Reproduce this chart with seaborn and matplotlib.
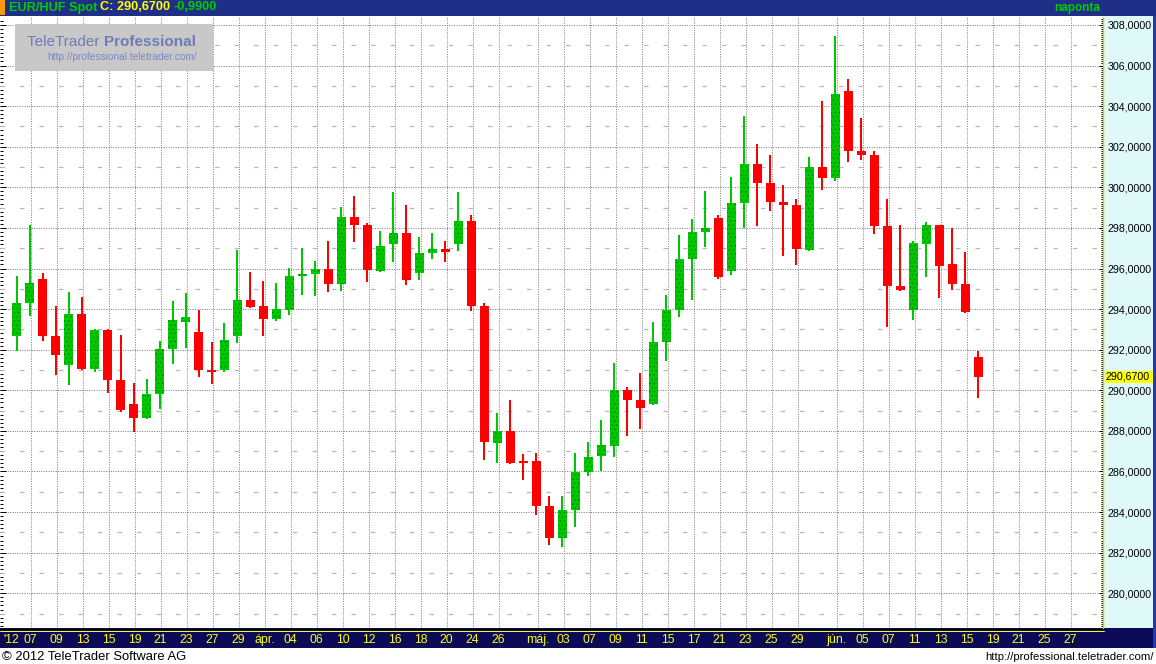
import numpy as np
import pandas as pd
import matplotlib
matplotlib.use("Agg")
import matplotlib.pyplot as plt
from matplotlib.patches import Rectangle
from matplotlib.lines import Line2D
from matplotlib.ticker import MultipleLocator, FuncFormatter, NullFormatter
import seaborn as sns

# ---------------- data ----------------
# trading calendar shown on the axis (weekdays Mar 6 - Jun 29, 2012)
dates = pd.bdate_range("2012-03-06", "2012-06-29")

open_ = [292.69, 294.32, 295.48, 292.67, 291.26, 293.76, 291.06, 292.97, 290.51, 289.33,
         288.64, 289.82, 292.03, 293.36, 292.87, 291.01, 291.00, 292.67, 294.45, 294.15,
         293.51, 293.96, 295.63, 295.73, 295.98, 295.24, 298.54, 298.15, 295.88, 297.21,
         297.75, 295.78, 296.77, 296.96, 297.21, 298.34, 294.15, 287.40, 288.00, 286.52,
         286.52, 284.30, 282.72, 284.10, 285.98, 286.77, 287.26, 290.01, 289.52, 289.33,
         292.38, 293.96, 296.47, 297.80, 298.49, 295.88, 299.23, 301.15, 300.21, 299.27,
         299.13, 296.91, 301.00, 300.45, 304.74, 301.78, 301.59, 298.09, 295.14, 293.96,
         297.21, 298.14, 296.22, 295.24, 291.66]
high = [295.63, 298.14, 295.78, 294.15, 294.84, 294.60, 293.02, 293.02, 292.72, 290.36,
        290.56, 292.43, 294.40, 294.79, 293.96, 292.38, 293.32, 296.91, 295.83, 295.38,
        295.29, 296.02, 297.01, 296.37, 297.35, 299.03, 299.57, 298.24, 297.85, 299.77,
        299.13, 297.55, 297.75, 297.35, 299.77, 298.64, 294.30, 288.88, 289.52, 286.86,
        286.91, 284.79, 284.79, 286.91, 287.45, 288.54, 291.34, 290.16, 290.85, 293.36,
        294.69, 297.65, 298.44, 299.82, 298.64, 300.51, 303.51, 302.13, 301.59, 300.11,
        299.42, 301.49, 304.25, 307.45, 305.33, 303.41, 301.78, 299.42, 298.14, 297.35,
        298.29, 298.14, 297.99, 296.81, 291.94]
low = [291.94, 293.67, 292.43, 290.75, 290.26, 291.00, 290.90, 289.87, 288.93, 287.95,
       288.59, 289.08, 291.30, 292.08, 290.66, 290.31, 290.90, 292.33, 294.05, 292.67,
       293.41, 293.71, 294.69, 294.65, 294.84, 294.89, 297.31, 295.33, 295.83, 296.32,
       295.19, 295.43, 296.47, 296.32, 296.86, 293.91, 286.57, 286.42, 286.37, 285.58,
       283.86, 282.38, 282.28, 283.27, 285.78, 286.02, 286.71, 287.75, 288.09, 289.28,
       291.44, 293.63, 294.45, 297.06, 295.48, 295.68, 297.99, 298.09, 298.83, 296.62,
       296.17, 296.88, 299.87, 300.31, 301.25, 301.34, 297.70, 293.12, 294.89, 293.46,
       295.58, 294.55, 294.94, 293.81, 289.62]
close = [294.30, 295.29, 292.69, 291.74, 293.76, 291.05, 292.97, 290.51, 289.03, 288.64,
         289.82, 292.02, 293.46, 293.61, 291.00, 290.90, 292.48, 294.45, 294.10, 293.51,
         294.00, 295.63, 295.72, 295.98, 295.24, 298.54, 298.15, 295.93, 297.11, 297.75,
         295.43, 296.76, 296.96, 296.81, 298.34, 294.15, 287.45, 288.00, 286.42, 286.42,
         284.30, 282.71, 284.11, 285.97, 286.71, 287.31, 290.01, 289.52, 289.13, 292.38,
         293.96, 296.47, 297.80, 297.99, 295.58, 299.23, 301.15, 300.21, 299.27, 299.13,
         296.96, 301.00, 300.45, 304.60, 301.78, 301.59, 298.09, 295.14, 294.94, 297.26,
         298.14, 296.12, 295.24, 293.86, 290.67]

tick_dates = ["2012-03-07", "2012-03-09", "2012-03-13", "2012-03-15", "2012-03-19",
              "2012-03-21", "2012-03-23", "2012-03-27", "2012-03-29", "2012-04-02",
              "2012-04-04", "2012-04-06", "2012-04-10", "2012-04-12", "2012-04-16",
              "2012-04-18", "2012-04-20", "2012-04-24", "2012-04-26", "2012-05-01",
              "2012-05-03", "2012-05-07", "2012-05-09", "2012-05-11", "2012-05-15",
              "2012-05-17", "2012-05-21", "2012-05-23", "2012-05-25", "2012-05-29",
              "2012-06-01", "2012-06-05", "2012-06-07", "2012-06-11", "2012-06-13",
              "2012-06-15", "2012-06-19", "2012-06-21", "2012-06-25", "2012-06-27"]
tick_texts = ["07", "09", "13", "15", "19", "21", "23", "27", "29", "ápr.",
              "04", "06", "10", "12", "16", "18", "20", "24", "26", "máj.",
              "03", "07", "09", "11", "15", "17", "21", "23", "25", "29",
              "jún.", "05", "07", "11", "13", "15", "19", "21", "25", "27"]

symbol = "EUR/HUF Spot"
last_price = 290.67
change = -0.99

# ---------------- figure ----------------
sns.set_theme(style="white")
plt.rcParams["font.family"] = ["Liberation Sans", "DejaVu Sans"]
plt.rcParams["hatch.linewidth"] = 0.6

W, H = 1156, 664
fig = plt.figure(figsize=(W / 100, H / 100), dpi=100)
fig.patch.set_facecolor("white")


def fx(x):
    return x / W


def fy(y):
    return 1 - y / H


def frect(x0, y0, x1, y1, color, z=-1):
    fig.add_artist(Rectangle((fx(x0), fy(y1)), fx(x1) - fx(x0), fy(y0) - fy(y1),
                             transform=fig.transFigure, facecolor=color,
                             edgecolor="none", zorder=z))


def fline(x0, x1, y, color, z=-0.5, lw=0.72):
    fig.add_artist(Line2D([fx(x0), fx(x1)], [fy(y), fy(y)], transform=fig.transFigure,
                          color=color, lw=lw, zorder=z))


# background panels
frect(0, 0, W, 16, "#1F2E86", z=2)           # header
frect(0, 0, 5, 15, "#FF9900", z=2.1)         # orange marker
frect(1104, 16, 1153, 628, "#DFF9F9")        # right value panel
frect(1153, 16, W, 648, "#2438B0", z=2)      # right border
frect(0, 628, 1153, 648, "#0B0B58")          # date band
fline(0, 1104, 628.5, "black")
fline(0, 1104, 630.8, "#FFFF00")

ax = fig.add_axes([0, 1 - 628 / H, 1103 / W, (628 - 17) / H])
ax.set_facecolor("white")

df = pd.DataFrame({"date": dates[:len(close)], "open": open_, "high": high,
                   "low": low, "close": close})
df["x"] = dates.get_indexer(df["date"])
df["up"] = df["close"] >= df["open"]

green, red = "#00C800", "#FF0000"
for up, sub in df.groupby("up"):
    col = green if up else red
    ax.bar(sub["x"], sub["high"] - sub["low"], bottom=sub["low"], width=2 / 13,
           color=col, linewidth=0, zorder=2)
    body_lo = np.minimum(sub["open"], sub["close"])
    body_h = np.maximum(np.abs(sub["close"] - sub["open"]), 0.11)
    if up:
        ax.bar(sub["x"], body_h, bottom=body_lo, width=9 / 13, color=col,
               edgecolor="#008A00", hatch="....", linewidth=0, zorder=3)
    else:
        ax.bar(sub["x"], body_h, bottom=body_lo, width=9 / 13, color=col,
               linewidth=0, zorder=3)

ax.set_xlim(-1.27, 83.58)
ax.set_ylim(278.29, 308.39)

tick_pos = dates.get_indexer(pd.to_datetime(tick_dates))
ax.set_xticks(tick_pos + 0.08)
ax.set_xticklabels(tick_texts, color="#FFFF00", fontsize=8.8)
ax.tick_params(axis="x", length=0, pad=4)

ax.yaxis.set_major_locator(MultipleLocator(2))
ax.yaxis.set_minor_locator(MultipleLocator(0.2))
ax.yaxis.set_minor_formatter(NullFormatter())
ax.tick_params(axis="y", which="both", direction="in", left=True, right=False,
               labelleft=False, color="black", width=0.72)
ax.tick_params(axis="y", which="major", length=4.3)
ax.tick_params(axis="y", which="minor", length=2.2)

ax.set_axisbelow(True)
ax.grid(True, which="major", axis="both", color="#7f7f7f", linestyle=(0, (1, 1.4)),
        linewidth=0.72)
for v in range(279, 309, 2):
    ax.axhline(v, color="#b8b8b8", lw=0.9, linestyle=(0, (3.6, 12)), zorder=0.6)
for s in ax.spines.values():
    s.set_visible(False)

# right value axis
axr = ax.twinx()
axr.set_ylim(ax.get_ylim())
axr.yaxis.set_major_locator(MultipleLocator(2))
axr.yaxis.set_minor_locator(MultipleLocator(0.1))
axr.yaxis.set_minor_formatter(NullFormatter())
axr.yaxis.set_major_formatter(FuncFormatter(lambda v, p: f"{v:.4f}".replace(".", ",")))
axr.tick_params(axis="y", which="both", direction="in", right=True, labelright=True,
                color="black", width=0.72, labelsize=7.7, labelcolor="black", pad=3)
axr.tick_params(axis="y", which="major", length=3)
axr.tick_params(axis="y", which="minor", length=1.5)
axr.grid(False)
for k, s in axr.spines.items():
    s.set_visible(k == "right")
axr.spines["right"].set_color("#F2C200")
axr.spines["right"].set_linewidth(1.0)

# current price tag
ylo, yhi = ax.get_ylim()
y_tag = 17 + (yhi - last_price) / (yhi - ylo) * (628 - 17)
frect(1105, y_tag - 6, 1153, y_tag + 6, "#FFFF00", z=4)
fig.text(fx(1106), fy(y_tag), f"{last_price:.4f}".replace(".", ","), fontsize=7.7,
         color="black", va="center", ha="left", zorder=5)

# header texts
fig.text(fx(9), fy(7.5), symbol, color="#00CC00", fontsize=9.2, fontweight="bold",
         va="center", ha="left", zorder=5)
fig.text(fx(100), fy(7.5), "C: " + f"{last_price:.4f}".replace(".", ","), color="#FFFF00",
         fontsize=9.2, fontweight="bold", va="center", ha="left", zorder=5)
fig.text(fx(173), fy(7.5), f"{change:.4f}".replace(".", ","), color="#00CC00",
         fontsize=9.2, fontweight="bold", va="center", ha="left", zorder=5)
fig.text(fx(1100), fy(7.5), "naponta", color="#00CC00", fontsize=8.5, fontweight="bold",
         va="center", ha="right", zorder=5)

# year marker in date band
fig.text(fx(3), fy(640), "'12", color="#FFFF00", fontsize=8.8, va="center", ha="left",
         zorder=5)

# watermark
frect(15, 24, 213, 71, "#C8C8C8", z=3)
t1 = fig.text(fx(27), fy(41.5), "TeleTrader ", color="#6F7BB5", fontsize=11,
              va="center", ha="left", zorder=4)
fig.canvas.draw()
bb = t1.get_window_extent()
fig.text(bb.x1 / W, fy(41.5), "Professional", color="#6F7BB5", fontsize=11,
         fontweight="bold", va="center", ha="left", zorder=4)
fig.text(fx(47), fy(57), "http://professional.teletrader.com/", color="#7C86C0",
         fontsize=7.3, va="center", ha="left", zorder=4)

# footer
fig.text(fx(2), fy(656.5), "© 2012 TeleTrader Software AG", color="black", fontsize=9.4,
         va="center", ha="left")
fig.text(fx(1154), fy(656.5), "http://professional.teletrader.com/", color="black",
         fontsize=8.2, va="center", ha="right")

fig.savefig("out.png", dpi=100, facecolor="white")
